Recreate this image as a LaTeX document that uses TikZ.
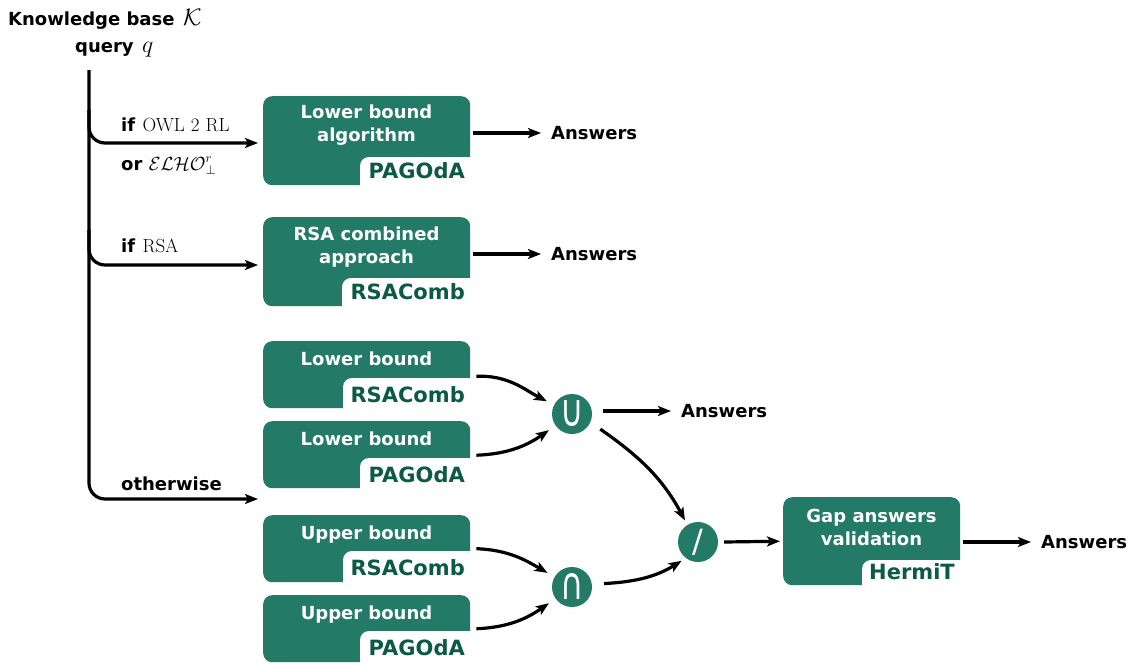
\RequirePackage{fix-cm}
\documentclass[tikz,border=0pt]{standalone}
\usepackage[no-math]{fontspec}
\usepackage{graphicx}
\setmainfont{DejaVu Sans}
\usetikzlibrary{arrows.meta,calc}
\definecolor{gr}{HTML}{237A67}
\definecolor{dgr}{HTML}{0C5946}
\begin{document}
\begin{tikzpicture}[x=1pt,y=-1pt,
 arr/.style={line width=3.2pt, -{Stealth[length=13pt,width=10pt,inset=3pt]}},
 gbox/.style={fill=gr, rounded corners=9pt, inner sep=0, anchor=north west},
 btext/.style={text=white, font=\fontsize{18}{23}\selectfont\bfseries, align=center, inner sep=0},
 tabtext/.style={text=dgr, font=\fontsize{21}{25}\selectfont\bfseries, inner sep=0, anchor=base east},
 tabbg/.style={fill=white, rounded corners=9pt},
 lbl/.style={font=\fontsize{18}{22}\selectfont\bfseries, inner sep=0, anchor=base west},
 mth/.style={font=\fontsize{17.28}{20}\selectfont, inner sep=0, anchor=base west, transform shape},
 ans/.style={font=\fontsize{18}{22}\selectfont\bfseries, inner sep=0, anchor=west},
 circ/.style={circle, fill=gr, minimum size=40pt, inner sep=0, text=white}]
\useasboundingbox (0,0) rectangle (1138,664);

% boxes
\node[gbox, minimum width=207pt, minimum height=89pt] (b1) at (263,96) {};
\node[gbox, minimum width=207pt, minimum height=89pt] (b2) at (263,217) {};
\node[gbox, minimum width=207pt, minimum height=67pt] (b3) at (263,341) {};
\node[gbox, minimum width=207pt, minimum height=67pt] (b4) at (263,421) {};
\node[gbox, minimum width=207pt, minimum height=67pt] (b5) at (263,515) {};
\node[gbox, minimum width=207pt, minimum height=67pt] (b6) at (263,595) {};
\node[gbox, minimum width=177pt, minimum height=88pt] (b7) at (783,497) {};

% tabs
\fill[tabbg] (360,157) rectangle (482,195);
\fill[tabbg] (342,278) rectangle (482,316);
\fill[tabbg] (343,378) rectangle (482,418);
\fill[tabbg] (360,458) rectangle (482,498);
\fill[tabbg] (343,551) rectangle (482,592);
\fill[tabbg] (360,631) rectangle (482,670);
\fill[tabbg] (862,560) rectangle (972,595);

% box texts
\node[btext] (b1t) at (366.5,125.5) {Lower bound\\algorithm};
\node[btext] (b2t) at (366.5,247) {RSA combined\\approach};
\node[btext, anchor=base] (b3t) at (366.5,365) {Lower bound};
\node[btext, anchor=base] (b4t) at (366.5,445) {Lower bound};
\node[btext, anchor=base] (b5t) at (366.5,539) {Upper bound};
\node[btext, anchor=base] (b6t) at (366.5,619) {Upper bound};
\node[btext] (b7t) at (871.5,527) {Gap answers\\validation};

\node[tabtext] (b1l) at (465,178.5) {PAGOdA};
\node[tabtext] (b2l) at (465,299.5) {RSAComb};
\node[tabtext] (b3l) at (465,402.5) {RSAComb};
\node[tabtext] (b4l) at (465,482.5) {PAGOdA};
\node[tabtext] (b5l) at (465,575.5) {RSAComb};
\node[tabtext] (b6l) at (465,655.5) {PAGOdA};
\node[tabtext] (b7l) at (955,579.5) {HermiT};

% title
\node[lbl] (kb) at (8,25) {Knowledge base};
\node[mth, scale=1.38] (kbm) at ($(kb.base east)+(8,0)$) {$\mathcal{K}$};
\node[lbl] (qq) at (75,52) {query};
\node[mth, scale=1.38] (qqm) at ($(qq.base east)+(8,0)$) {$q$};

% trunk and branches
\coordinate (top) at (89,70);
\coordinate (s1) at (89,110);
\coordinate (s2) at (89,230);
\coordinate (e1) at (258,143);
\coordinate (e2) at (258,265);
\coordinate (e4) at (258,499);
\draw[arr, rounded corners=16pt] (top) |- (e4);
\draw[arr, rounded corners=16pt] (s1) |- (e1);
\draw[arr, rounded corners=16pt] (s2) |- (e2);

\node[lbl] (l1) at (121,131) {if};
\node[mth, scale=1.1] (l1m) at ($(l1.base east)+(7,0)$) {$\mathrm{OWL\ 2\ RL}$};
\node[lbl] (l2) at (121,170) {or};
\node[mth, scale=1.1] (l2m) at ($(l2.base east)+(6,0)$) {$\mathcal{ELHO}^r_\bot$};
\node[lbl] (l3) at (121,252) {if};
\node[mth, scale=1.1] (l3m) at ($(l3.base east)+(7,0)$) {$\mathrm{RSA}$};
\node[lbl] (l4) at (121,490) {otherwise};

% operators
\node[circ, font=\fontsize{32}{32}\selectfont] (u) at (572,414) {\scalebox{1}[1.4]{∪}};
\node[circ, font=\fontsize{32}{32}\selectfont] (i) at (572,587) {\scalebox{1}[1.4]{∩}};
\node[circ, font=\fontsize{32}{32}\selectfont] (s) at (698,542) {/};

% answers
\node[ans] (a1) at (551,133) {Answers};
\node[ans] (a2) at (551,254) {Answers};
\node[ans] (a3) at (681,411) {Answers};
\node[ans] (a4) at (1041,542) {Answers};

\draw[arr] ($(b1.east|-a1.west)+(3,0)$) -- ($(a1.west)+(-10,0)$);
\draw[arr] ($(b2.east|-a2.west)+(3,0)$) -- ($(a2.west)+(-10,0)$);
\draw[arr] ($(u.center|-a3.west)+(31,0)$) -- ($(a3.west)+(-10,0)$);
\draw[arr] ($(b7.east|-a4.west)+(3,0)$) -- ($(a4.west)+(-10,0)$);

\draw[arr, shorten >=8pt] ($(b3.east)+(6,1.5)$) to[out=2,in=153] (u.153);
\draw[arr, shorten >=8pt] ($(b4.east)+(6,0.5)$) to[out=2,in=215] (u.215);
\draw[arr, shorten >=8pt] ($(b5.east)+(6,0)$) to[out=-2,in=150] (i.150);
\draw[arr, shorten >=8pt] ($(b6.east)+(6,0)$) to[out=2,in=215] (i.215);
\draw[arr, shorten <=12pt, shorten >=5pt] (u.-24) to[out=-35,in=118] (s.122);
\draw[arr, shorten <=12pt, shorten >=5pt] (i.8) to[out=3,in=212] (s.233);
\draw[arr, shorten >=3pt] ($(s.east)+(6,0)$) -- (b7.west);
\end{tikzpicture}
\end{document}
